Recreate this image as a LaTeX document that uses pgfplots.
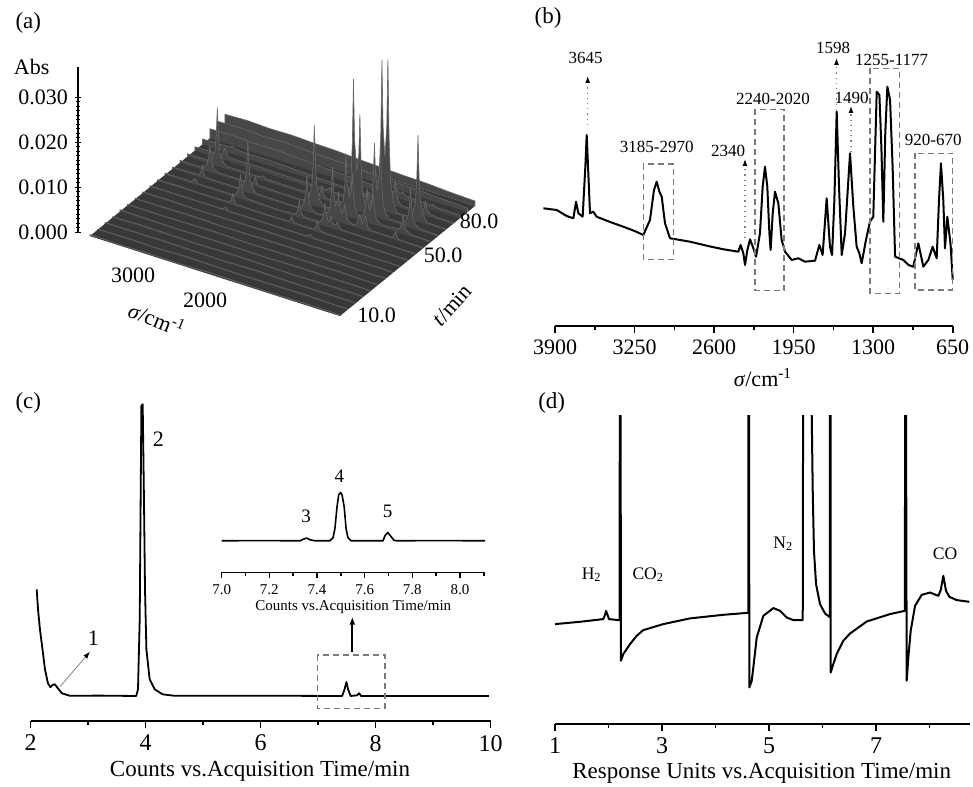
\documentclass[border=0pt]{standalone}
\usepackage{fontspec}
\setmainfont{Liberation Serif}
\usepackage{pgfplots}
\pgfplotsset{compat=1.18}
\usetikzlibrary{arrows.meta}
\definecolor{plane}{HTML}{383838}
\definecolor{sfill}{HTML}{474747}
\definecolor{sline}{HTML}{686868}
\definecolor{boxgray}{HTML}{7A7A7A}
\newcommand{\fs}[1]{\fontsize{#1}{#1}\selectfont}

\pgfplotsset{
  flat/.style={
    scale only axis, clip=false,
    axis x line*=bottom, axis y line=none, ytick=\empty,
    x axis line style={-, line width=0.8pt},
    tick align=outside, major tick length=3.5pt, minor tick length=2.2pt,
    tick style={black, line width=0.8pt},
    /pgf/number format/assume math mode=true,
  },
  trace/.style={black, line width=1pt, line join=round},
  slice/.style={fill=sfill, draw=sline, line width=0.3pt, line join=round},
}

\begin{document}
\begin{tikzpicture}
\useasboundingbox (0,0) rectangle (486.5pt,393pt);

% ---------- (a) Abs ruler
\begin{axis}[scale only axis, at={(39pt,277pt)}, anchor=south west,
  width=1pt, height=82.5pt, xmin=0, xmax=1, ymin=0, ymax=0.03667,
  axis x line=none, axis y line*=left, xtick=\empty,
  y axis line style={-, line width=0.7pt},
  ytick={0,0.01,0.02,0.03}, minor y tick num=9, scaled y ticks=false,
  tick align=center, major tick length=3pt, minor tick length=1.8pt,
  tick style={black, line width=0.45pt},
  /pgf/number format/assume math mode=true,
  /pgf/number format/fixed, /pgf/number format/fixed zerofill,
  /pgf/number format/precision=3,
  yticklabel style={font=\fs{11}}]
\end{axis}

% ---------- (a) surface: wavenumber in cm^-1 (shown per 1000 cm^-1), t in min
\begin{axis}[at={(194.25pt,227.25pt)}, anchor=origin,
  x={(-37.313pt,11.940pt)}, y={(0.75pt,0.61111pt)}, z={(0pt,2250pt)},
  x filter/.code={\pgfmathparse{#1/1000}},
  xmin=0, xmax=4, ymin=0, ymax=90, zmin=0, zmax=0.04,
  hide axis, clip=false]
\addplot3[fill=plane, draw=none] coordinates {(4000,0,0) (650,0,0) (650,90,0) (4000,90,0)};
\addplot3[slice] coordinates {(4000,90,0) (4000,90,.0026) (3700,90,.0028) (3400,90,.0026) (3100,90,.0027) (2800,90,.0025) (2500,90,.0024) (2200,90,.0021) (1900,90,.0019) (1600,90,.0017) (1300,90,.0016) (1000,90,.0013) (650,90,.0011) (650,90,0)};
\addplot3[slice] coordinates {(4000,85,0) (4000,85,.0024) (3700,85,.0026) (3400,85,.0023) (3100,85,.0025) (2800,85,.0022) (2500,85,.0021) (2200,85,.0019) (1900,85,.0016) (1600,85,.0015) (1300,85,.0014) (1000,85,.0011) (650,85,.0009) (650,85,0)};
\addplot3[slice] coordinates {(4000,80,0) (4000,80,.0021) (3700,80,.0022) (3400,80,.0020) (3100,80,.0021) (2800,80,.0018) (2500,80,.0016) (2200,80,.0014) (1900,80,.0012) (1600,80,.0011) (1530,80,.0011) (1495,80,.0018) (1455,80,.0012) (1415,80,.0018) (1380,80,.0010) (1300,80,.0010) (1050,80,.0008) (1012,80,.0011) (975,80,.0007) (800,80,.0007) (650,80,.0006) (650,80,0)};
\addplot3[slice] coordinates {(4000,75,0) (4000,75,.0012) (3700,75,.0013) (3640,75,.0013) (3600,75,.0017) (3560,75,.0012) (3400,75,.0011) (3100,75,.0012) (2800,75,.0010) (2500,75,.0008) (2200,75,.0006) (1900,75,.0005) (1810,75,.0006) (1776,75,.0012) (1740,75,.0007) (1690,75,.0009) (1655,75,.0005) (1565,75,.0007) (1530,75,.0015) (1510,75,.0031) (1495,75,.0056) (1480,75,.0034) (1455,75,.0023) (1430,75,.0034) (1415,75,.0056) (1400,75,.0031) (1380,75,.0015) (1345,75,.0007) (1300,75,.0005) (1082,75,.0006) (1047,75,.0010) (1027,75,.0018) (1012,75,.0033) (997,75,.0018) (977,75,.0010) (942,75,.0006) (800,75,.0004) (650,75,.0004) (650,75,0)};
\addplot3[slice] coordinates {(4000,70,0) (4000,70,.0008) (3700,70,.0009) (3640,70,.0009) (3600,70,.0027) (3560,70,.0009) (3400,70,.0008) (3100,70,.0009) (2800,70,.0008) (2500,70,.0007) (2240,70,.0006) (2200,70,.0013) (2160,70,.0006) (1900,70,.0006) (1846,70,.0006) (1791,70,.0028) (1776,70,.0049) (1761,70,.0028) (1733,70,.0018) (1705,70,.0021) (1690,70,.0035) (1675,70,.0021) (1620,70,.0006) (1565,70,.0028) (1530,70,.0068) (1510,70,.0172) (1495,70,.0334) (1480,70,.0189) (1455,70,.0119) (1430,70,.0191) (1415,70,.0339) (1400,70,.0173) (1380,70,.0069) (1345,70,.0028) (1295,70,.0005) (1132,70,.0005) (1082,70,.0018) (1047,70,.0042) (1027,70,.0099) (1012,70,.0192) (997,70,.0099) (977,70,.0042) (942,70,.0018) (892,70,.0005) (800,70,.0004) (650,70,.0004) (650,70,0)};
\addplot3[slice] coordinates {(4000,65,0) (4000,65,.0006) (3720,65,.0006) (3670,65,.0015) (3635,65,.0031) (3615,65,.0068) (3600,65,.0130) (3585,65,.0068) (3565,65,.0031) (3530,65,.0015) (3480,65,.0006) (3400,65,.0006) (3100,65,.0006) (3030,65,.0006) (2990,65,.0011) (2950,65,.0006) (2800,65,.0006) (2500,65,.0005) (2240,65,.0006) (2215,65,.0019) (2200,65,.0032) (2185,65,.0019) (2160,65,.0006) (1896,65,.0006) (1846,65,.0026) (1811,65,.0063) (1791,65,.0148) (1776,65,.0290) (1761,65,.0156) (1733,65,.0088) (1705,65,.0124) (1690,65,.0216) (1675,65,.0114) (1655,65,.0045) (1620,65,.0020) (1565,65,.0015) (1530,65,.0035) (1510,65,.0085) (1495,65,.0163) (1480,65,.0093) (1455,65,.0059) (1430,65,.0094) (1415,65,.0165) (1400,65,.0085) (1380,65,.0035) (1345,65,.0015) (1295,65,.0005) (1132,65,.0005) (1082,65,.0011) (1047,65,.0022) (1027,65,.0047) (1012,65,.0089) (997,65,.0047) (977,65,.0022) (942,65,.0011) (892,65,.0005) (800,65,.0004) (650,65,.0003) (650,65,0)};
\addplot3[slice] coordinates {(4000,60,0) (4000,60,.0005) (3720,60,.0005) (3670,60,.0009) (3635,60,.0016) (3615,60,.0033) (3600,60,.0061) (3585,60,.0033) (3565,60,.0016) (3530,60,.0009) (3480,60,.0005) (3100,60,.0005) (3030,60,.0005) (3005,60,.0013) (2990,60,.0022) (2975,60,.0013) (2950,60,.0005) (2500,60,.0004) (2320,60,.0005) (2270,60,.0017) (2235,60,.0040) (2215,60,.0092) (2200,60,.0179) (2185,60,.0092) (2165,60,.0040) (2130,60,.0017) (2080,60,.0005) (1896,60,.0008) (1871,60,.0014) (1856,60,.0029) (1846,60,.0025) (1811,60,.0031) (1791,60,.0070) (1776,60,.0138) (1761,60,.0076) (1733,60,.0042) (1705,60,.0058) (1690,60,.0099) (1675,60,.0053) (1655,60,.0023) (1620,60,.0011) (1565,60,.0010) (1530,60,.0018) (1510,60,.0040) (1495,60,.0075) (1480,60,.0044) (1455,60,.0029) (1430,60,.0044) (1415,60,.0076) (1400,60,.0040) (1380,60,.0018) (1345,60,.0010) (1295,60,.0005) (1082,60,.0008) (1047,60,.0012) (1027,60,.0023) (1012,60,.0042) (997,60,.0023) (977,60,.0012) (942,60,.0008) (892,60,.0004) (650,60,.0003) (650,60,0)};
\addplot3[slice] coordinates {(4000,55,0) (4000,55,.0004) (3700,55,.0005) (3640,55,.0005) (3615,55,.0017) (3600,55,.0029) (3585,55,.0017) (3560,55,.0005) (3400,55,.0004) (3110,55,.0004) (3060,55,.0012) (3025,55,.0027) (3005,55,.0061) (2990,55,.0117) (2975,55,.0061) (2955,55,.0027) (2920,55,.0012) (2870,55,.0004) (2500,55,.0004) (2320,55,.0004) (2270,55,.0009) (2235,55,.0020) (2215,55,.0043) (2200,55,.0082) (2185,55,.0043) (2165,55,.0020) (2130,55,.0009) (2080,55,.0004) (1976,55,.0004) (1926,55,.0012) (1891,55,.0026) (1871,55,.0059) (1856,55,.0117) (1841,55,.0064) (1816,55,.0033) (1791,55,.0042) (1776,55,.0067) (1761,55,.0036) (1733,55,.0021) (1705,55,.0028) (1690,55,.0045) (1675,55,.0024) (1655,55,.0012) (1620,55,.0007) (1570,55,.0004) (1530,55,.0009) (1495,55,.0031) (1455,55,.0013) (1415,55,.0032) (1380,55,.0009) (1340,55,.0004) (1050,55,.0004) (1012,55,.0019) (975,55,.0004) (800,55,.0003) (650,55,.0003) (650,55,0)};
\addplot3[slice] coordinates {(4000,50,0) (4000,50,.0004) (3700,50,.0004) (3640,50,.0004) (3600,50,.0014) (3560,50,.0004) (3400,50,.0004) (3100,50,.0004) (3060,50,.0006) (3025,50,.0014) (3005,50,.0030) (2990,50,.0055) (2975,50,.0030) (2955,50,.0014) (2920,50,.0006) (2500,50,.0003) (2270,50,.0005) (2235,50,.0010) (2215,50,.0020) (2200,50,.0038) (2185,50,.0020) (2165,50,.0010) (2130,50,.0005) (1926,50,.0006) (1891,50,.0013) (1871,50,.0028) (1856,50,.0053) (1841,50,.0030) (1816,50,.0014) (1791,50,.0016) (1776,50,.0027) (1761,50,.0015) (1733,50,.0009) (1705,50,.0011) (1690,50,.0019) (1675,50,.0011) (1640,50,.0004) (1300,50,.0003) (1000,50,.0003) (650,50,.0003) (650,50,0)};
\addplot3[slice] coordinates {(4000,45,0) (4000,45,.0003) (3700,45,.0004) (3400,45,.0003) (3030,45,.0004) (3005,45,.0014) (2990,45,.0026) (2975,45,.0014) (2950,45,.0004) (2500,45,.0003) (2240,45,.0004) (2215,45,.0009) (2200,45,.0017) (2185,45,.0009) (2160,45,.0004) (1900,45,.0004) (1871,45,.0013) (1856,45,.0025) (1841,45,.0013) (1815,45,.0004) (1600,45,.0003) (1300,45,.0003) (1000,45,.0003) (650,45,.0002) (650,45,0)};
\addplot3[slice] coordinates {(4000,40,0) (4000,40,.0003) (3700,40,.0003) (3400,40,.0003) (3030,40,.0003) (2990,40,.0009) (2950,40,.0003) (2500,40,.0003) (1900,40,.0003) (1856,40,.0009) (1815,40,.0003) (1300,40,.0003) (1000,40,.0002) (650,40,.0002) (650,40,0)};
\addplot3[slice] coordinates {(4000,35,0) (4000,35,.0003) (3600,35,.0004) (3200,35,.0002) (2800,35,.0003) (2400,35,.0004) (2000,35,.0003) (1600,35,.0004) (1200,35,.0002) (800,35,.0003) (650,35,.0002) (650,35,0)};
\addplot3[slice] coordinates {(4000,30,0) (4000,30,.0002) (3600,30,.0003) (3200,30,.0004) (2800,30,.0002) (2400,30,.0003) (2000,30,.0004) (1600,30,.0002) (1200,30,.0003) (800,30,.0002) (650,30,.0003) (650,30,0)};
\addplot3[slice] coordinates {(4000,25,0) (4000,25,.0003) (3600,25,.0002) (3200,25,.0003) (2800,25,.0004) (2400,25,.0002) (2000,25,.0003) (1600,25,.0003) (1200,25,.0004) (800,25,.0002) (650,25,.0002) (650,25,0)};
\addplot3[slice] coordinates {(4000,20,0) (4000,20,.0004) (3600,20,.0003) (3200,20,.0002) (2800,20,.0003) (2400,20,.0003) (2000,20,.0002) (1600,20,.0004) (1200,20,.0003) (800,20,.0003) (650,20,.0002) (650,20,0)};
\addplot3[slice] coordinates {(4000,15,0) (4000,15,.0002) (3600,15,.0004) (3200,15,.0003) (2800,15,.0002) (2400,15,.0004) (2000,15,.0003) (1600,15,.0002) (1200,15,.0003) (800,15,.0004) (650,15,.0003) (650,15,0)};
\addplot3[slice] coordinates {(4000,10,0) (4000,10,.0003) (3600,10,.0003) (3200,10,.0004) (2800,10,.0003) (2400,10,.0002) (2000,10,.0004) (1600,10,.0003) (1200,10,.0002) (800,10,.0003) (650,10,.0002) (650,10,0)};
\addplot3[slice] coordinates {(4000,5,0) (4000,5,.0002) (3600,5,.0003) (3200,5,.0002) (2800,5,.0004) (2400,5,.0003) (2000,5,.0002) (1600,5,.0003) (1200,5,.0004) (800,5,.0002) (650,5,.0003) (650,5,0)};
\addplot3[slice] coordinates {(4000,0,0) (4000,0,.0003) (3600,0,.0002) (3200,0,.0003) (2800,0,.0002) (2400,0,.0004) (2000,0,.0003) (1600,0,.0002) (1200,0,.0003) (800,0,.0003) (650,0,.0002) (650,0,0)};
\end{axis}

% ---------- (b) IR spectrum
\begin{axis}[flat, at={(277.5pt,230pt)}, anchor=south west,
  width=198.85pt, height=150pt, xmin=650, xmax=3900, x dir=reverse,
  ymin=0, ymax=300,
  xtick={650,1300,1950,2600,3250,3900}, minor xtick={975,1625,2275,2925,3575},
  tick label style={font=\fs{11}},
  /pgf/number format/set thousands separator={}]
\addplot[trace] coordinates {(3995,117.7) (3886,116) (3805,110) (3750,107.7) (3728,124.3) (3709,112.7) (3674,109.3) (3652,159.3) (3641,191) (3630,159.3) (3614,112.7) (3587,114.3) (3560,109.3) (3450,104) (3342,99.3) (3250,95) (3178,91) (3124,106) (3091,136) (3069,144.3) (3047,134.3) (3028,129.3) (3001,102.7) (2960,87.7) (2797,84.3) (2650,80) (2524,76.7) (2402,74.3) (2383,81) (2361,72.7) (2347,61) (2328,76) (2306,86.7) (2279,77.7) (2257,69.3) (2225,92.7) (2203,139.3) (2184,159.3) (2165,139.3) (2148,92.7) (2138,76) (2121,112.7) (2102,134.3) (2075,122.7) (2048,86) (2020,74.3) (1966,66) (1911,67.7) (1857,64.3) (1775,65.3) (1740,81) (1713,71) (1680,127.7) (1653,79.3) (1636,71) (1617,126) (1598,214.3) (1579,139.3) (1557,71) (1530,92.7) (1489,172.7) (1462,119.3) (1435,79.3) (1413,72.7) (1394,62.7) (1359,86) (1326,104.3) (1299,109.3) (1271,234.3) (1249,231) (1233,179.3) (1217,104.3) (1201,192.7) (1184,239.3) (1162,226) (1141,159.3) (1121,69.3) (1053,66) (1012,61) (972,59.3) (931,82.7) (890,59.3) (849,66) (814,79.3) (781,67.7) (762,126) (746,162.7) (727,126) (713,77.7) (694,109.3) (678,92.7) (667,81) (650,46)};
\end{axis}

% ---------- (c) GC counts
\begin{axis}[flat, at={(15.35pt,32.5pt)}, anchor=south west,
  width=230pt, height=160pt, xmin=2, xmax=10, ymin=0, ymax=320,
  xtick={2,4,6,8,10}, minor xtick={3,5,7,9},
  tick label style={font=\fs{12}}]
\addplot[black, line width=0.9pt, line join=round] coordinates {(2.104,131.7) (2.127,111.7) (2.161,91.7) (2.205,71.7) (2.248,51.7) (2.300,37.7) (2.343,33.7) (2.370,35.7) (2.421,36.7) (2.473,32.7) (2.543,27.7) (2.682,25.2) (3.2,25.4) (3.835,25) (3.866,31.7) (3.896,101.7) (3.925,315) (3.948,316.7) (3.970,221.7) (3.988,131.7) (4.012,71.7) (4.069,41.7) (4.156,31.7) (4.294,26.7) (4.502,25.2) (6.0,25.3) (7.416,25) (7.459,31.7) (7.491,39) (7.520,31.7) (7.564,25) (7.677,25.7) (7.712,27.7) (7.747,25) (9.967,25)};
\end{axis}

% ---------- (c) inset
\begin{axis}[flat, at={(110.85pt,106.75pt)}, anchor=south west,
  width=131.65pt, height=45pt, xmin=7, xmax=8.105, ymin=0, ymax=90,
  xtick={7.0,7.2,7.4,7.6,7.8,8.0}, minor xtick={7.1,7.3,7.5,7.7,7.9,8.1},
  x axis line style={-, line width=0.7pt},
  major tick length=2.6pt, minor tick length=2pt,
  tick style={black, line width=0.7pt},
  /pgf/number format/fixed, /pgf/number format/fixed zerofill,
  /pgf/number format/precision=1,
  xticklabel style={font=\fs{7.5}}]
\addplot[black, line width=0.8pt, line join=round] coordinates {(7.0,31.7) (7.15,31.9) (7.329,31.7) (7.341,33.2) (7.357,34.4) (7.371,32.7) (7.392,31.7) (7.454,31.7) (7.467,34.7) (7.475,43.7) (7.484,65.7) (7.491,77.7) (7.499,80) (7.505,77.7) (7.514,65.7) (7.522,43.7) (7.530,34.7) (7.543,31.7) (7.677,31.7) (7.685,36.7) (7.697,40) (7.708,36.7) (7.723,32.2) (7.736,31.7) (7.9,31.9) (8.105,31.7)};
\end{axis}

% ---------- (d) GC response
\begin{axis}[flat, clip=true, at={(277.5pt,31pt)}, anchor=south west,
  width=207.6pt, height=154pt, xmin=1, xmax=8.76, ymin=0, ymax=308.3,
  xtick={1,3,5,7}, minor xtick={2,4,6,8},
  tick label style={font=\fs{12}}]
\addplot[trace] coordinates {(1.0,100) (1.467,102.3) (1.903,105) (1.935,109.3) (1.953,113.3) (1.981,109.3) (2.009,105) (2.183,104) (2.206,104) (2.214,420) (2.224,420) (2.232,63.3) (2.277,70) (2.402,80) (2.527,88.3) (2.650,94) (2.714,95) (3.025,100) (3.523,105.7) (4.146,109.3) (4.613,111.3) (4.618,420) (4.626,420) (4.632,36.6) (4.677,43.3) (4.707,56.6) (4.770,86.6) (4.894,108.3) (5.081,116) (5.206,113.3) (5.331,106.6) (5.455,104) (5.630,104) (5.640,420) (5.720,800) (5.798,310) (5.817,233.3) (5.840,173.3) (5.879,140) (5.953,120) (6.047,110.6) (6.127,107.3) (6.136,107) (6.141,420) (6.148,420) (6.153,51.6) (6.202,60) (6.265,70) (6.389,83.3) (6.514,90.6) (6.826,102.6) (7.262,110) (7.540,113.3) (7.544,420) (7.556,420) (7.573,43.3) (7.604,66.6) (7.648,93.3) (7.729,118.3) (7.854,129.3) (8.009,131.6) (8.165,128.3) (8.209,134) (8.258,148.3) (8.308,133.3) (8.371,127.3) (8.509,124) (8.744,122.3)};
\end{axis}

% ---------- text and annotations, in pixel units of the reference
\begin{scope}[x=0.5pt, y=-0.5pt, shift={(0,393pt)}]
% (a)
\node[font=\fs{11.5}] at (28.3,23.3) {(a)};
\node[font=\fs{11}] at (31.7,66.7) {Abs};
\node[font=\fs{11}] at (133,275) {3000};
\node[font=\fs{11}] at (205,300) {2000};
\node[font=\fs{11}] at (376.7,315) {10.0};
\node[font=\fs{11}] at (443,255) {50.0};
\node[font=\fs{11}] at (479,221) {80.0};
\node[font=\fs{11}, rotate=-22, inner sep=1pt] at (157,319) {\textit{σ}/cm\textsuperscript{-1}};
\node[font=\fs{11}, rotate=48, inner sep=1pt] at (452,305) {\textit{t}/min};
% (b)
\node[font=\fs{11.5}] at (548,18) {(b)};
\node[font=\fs{11}] at (763,378) {\textit{σ}/cm\textsuperscript{-1}};
\begin{scope}[font=\fs{8.5}]
\node at (585.7,57.5) {3645};
\node at (656.7,146.7) {3185-2970};
\node at (728,150.7) {2340};
\node at (773,99.3) {2240-2020};
\node at (833,48) {1598};
\node at (851.7,98) {1490};
\node at (891.7,60) {1255-1177};
\node at (933.3,140) {920-670};
\end{scope}
\begin{scope}[draw=boxgray, dash pattern=on 3pt off 2pt, line width=0.7pt]
\draw (643.3,164) rectangle (673.3,259.3);
\draw (755,109.3) rectangle (784,290.7);
\draw (870,68.3) rectangle (899.3,293.3);
\draw (915,153.3) rectangle (952.7,290);
\end{scope}
\begin{scope}[draw=gray, dotted, line width=0.6pt]
\draw[-{Latex[black,length=3.5pt,width=2.5pt]}] (587.7,125) -- (587.7,76);
\draw[-{Latex[black,length=3.5pt,width=2.5pt]}] (745,238) -- (745,159);
\draw[-{Latex[black,length=3.5pt,width=2.5pt]}] (836.5,110) -- (836.5,58);
\draw[-{Latex[black,length=3.5pt,width=2.5pt]}] (851,152) -- (851,106);
\end{scope}
% (c)
\node[font=\fs{11.5}] at (28.3,403.3) {(c)};
\node[font=\fs{11.5}] at (260,771.7) {Counts vs.Acquisition Time/min};
\node[font=\fs{11}] at (93.3,638.3) {1};
\node[font=\fs{11}] at (158.3,439.3) {2};
\node[font=\fs{9.5}] at (306,516.7) {3};
\node[font=\fs{9.5}] at (339.3,476) {4};
\node[font=\fs{9.5}] at (387.7,511.7) {5};
\node[font=\fs{7.5}] at (353.3,607.3) {Counts vs.Acquisition Time/min};
\draw[boxgray, dash pattern=on 3pt off 2pt, line width=0.7pt] (317.3,655) rectangle (385,708.3);
\draw[black, line width=0.9pt, -{Latex[length=4pt,width=3pt]}] (352.3,651.7) -- (352.3,616.7);
\draw[gray, line width=0.4pt, -{Latex[black,length=3.5pt,width=2.5pt]}] (60,686.7) -- (90,651.7);
% (d)
\node[font=\fs{11.5}] at (551.7,403.3) {(d)};
\node[font=\fs{11.5}] at (761.7,773.3) {Response Units vs.Acquisition Time/min};
\node[font=\fs{8.8}] at (591.7,575) {H\textsubscript{2}};
\node[font=\fs{8.8}] at (648.3,575) {CO\textsubscript{2}};
\node[font=\fs{8.8}] at (783.3,544) {N\textsubscript{2}};
\node[font=\fs{8.8}] at (945,553.3) {CO};
\end{scope}
\end{tikzpicture}
\end{document}
